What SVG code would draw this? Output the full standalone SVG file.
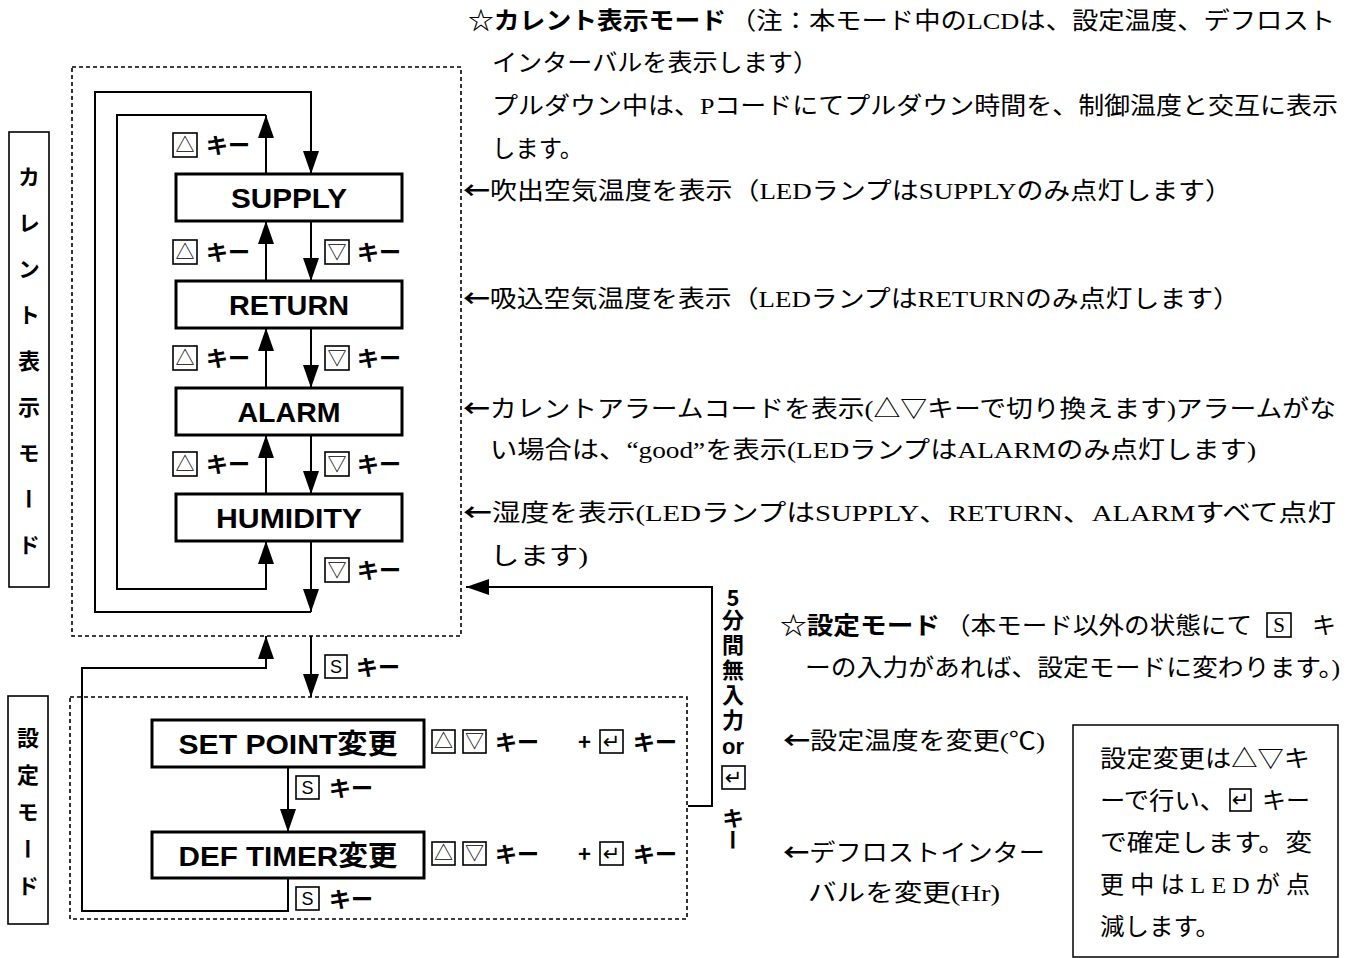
<svg xmlns="http://www.w3.org/2000/svg" width="1356" height="958" viewBox="0 0 1356 958">
<style>
.bg{fill:#fff}
.box{fill:#fff;stroke:#000;stroke-width:3}
.dot{fill:none;stroke:#000;stroke-width:1.6;stroke-dasharray:4 3}
.ln{fill:none;stroke:#000;stroke-width:2}
.arr{marker-end:url(#ah)}
.nt{font-family:"Liberation Sans","Noto Sans CJK JP",sans-serif;font-weight:bold;font-size:28px;text-anchor:middle}
.key{fill:#fff;stroke:#000;stroke-width:1.6}
.ks{font-family:"Noto Sans CJK JP",sans-serif;font-size:19px;text-anchor:middle}
.ke{font-family:"DejaVu Sans",sans-serif;font-size:21px;text-anchor:middle}
.ss{font-family:"Liberation Sans",sans-serif;font-size:18px;text-anchor:middle}
.kt{font-family:"Noto Sans CJK JP",sans-serif;font-weight:bold;font-size:22px}
.jp{font-family:"Liberation Serif","Noto Sans CJK JP",serif;font-size:24px}
.jb{font-family:"Noto Sans CJK JP",sans-serif;font-weight:bold;font-size:24px}
.ar{font-family:"Noto Sans CJK JP",sans-serif;font-weight:bold}
.vt{font-family:"Noto Sans CJK JP",sans-serif;font-weight:bold;font-size:22px;writing-mode:vertical-rl;text-orientation:upright}
.lab{fill:#fff;stroke:#000;stroke-width:1.6}
.note{fill:#fff;stroke:#000;stroke-width:1.5}
</style>
<defs>
<marker id="ah" markerUnits="userSpaceOnUse" markerWidth="23" markerHeight="16" viewBox="0 0 23 16" refX="23" refY="8" orient="auto"><path d="M0,0 L23,8 L0,16 z" fill="#000"/></marker>
</defs>
<rect class="bg" x="0" y="0" width="1356" height="958"/>

<g id="frames">
<rect class="dot" x="72" y="67" width="389" height="569"/>
<rect class="dot" x="70" y="697" width="617" height="222"/>
</g>

<g id="connectors">
<path class="ln arr" d="M311,540 V612"/>
<path class="ln arr" d="M311,612 H95 V92 H311 V174"/>
<path class="ln arr" d="M266,174 V115"/>
<path class="ln arr" d="M266,115 H117 V589 H266 V541"/>
<path class="ln arr" d="M266,281 V221"/>
<path class="ln arr" d="M311,221 V281"/>
<path class="ln arr" d="M266,388 V328"/>
<path class="ln arr" d="M311,328 V388"/>
<path class="ln arr" d="M266,494 V435"/>
<path class="ln arr" d="M311,435 V494"/>
<path class="ln arr" d="M311,636 V697"/>
<path class="ln arr" d="M288,878 V911 H82 V668 H266 V636"/>
<path class="ln arr" d="M288,767 V832"/>
<path class="ln arr" d="M688,806 H712 V587 H466"/>
</g>

<g id="node-supply"><rect class="box" x="176" y="174" width="226" height="47"/><text class="nt" x="289" y="208" textLength="116" lengthAdjust="spacingAndGlyphs">SUPPLY</text></g>
<g id="node-return"><rect class="box" x="176" y="281" width="226" height="47"/><text class="nt" x="289" y="315" textLength="120" lengthAdjust="spacingAndGlyphs">RETURN</text></g>
<g id="node-alarm"><rect class="box" x="176" y="388" width="226" height="47"/><text class="nt" x="289" y="422" textLength="103" lengthAdjust="spacingAndGlyphs">ALARM</text></g>
<g id="node-humidity"><rect class="box" x="176" y="494" width="226" height="47"/><text class="nt" x="289" y="528" textLength="146" lengthAdjust="spacingAndGlyphs">HUMIDITY</text></g>
<g id="node-setpoint"><rect class="box" x="152" y="720" width="272" height="47"/><text class="nt" x="288" y="754" textLength="219" lengthAdjust="spacingAndGlyphs">SET POINT変更</text></g>
<g id="node-deftimer"><rect class="box" x="152" y="832" width="272" height="46"/><text class="nt" x="288" y="866" textLength="219" lengthAdjust="spacingAndGlyphs">DEF TIMER変更</text></g>

<g id="label-current-mode"><rect class="lab" x="9" y="132" width="40" height="455"/><text class="vt" x="29" y="166" letter-spacing="24">カレント表示モード</text></g>
<g id="label-setting-mode"><rect class="lab" x="8" y="696" width="40" height="228"/><text class="vt" x="28" y="727" letter-spacing="15">設定モード</text></g>

<g id="key-labels">
<rect class="key" x="173" y="133" width="24" height="24"/><text class="ks" x="185" y="152">△</text><text class="kt" x="206" y="153">キー</text>
<rect class="key" x="173" y="240" width="24" height="24"/><text class="ks" x="185" y="259">△</text><text class="kt" x="206" y="260">キー</text>
<rect class="key" x="325" y="240" width="24" height="24"/><text class="ks" x="337" y="259">▽</text><text class="kt" x="357" y="260">キー</text>
<rect class="key" x="173" y="346" width="24" height="24"/><text class="ks" x="185" y="365">△</text><text class="kt" x="206" y="366">キー</text>
<rect class="key" x="325" y="346" width="24" height="24"/><text class="ks" x="337" y="365">▽</text><text class="kt" x="357" y="366">キー</text>
<rect class="key" x="173" y="452" width="24" height="24"/><text class="ks" x="185" y="471">△</text><text class="kt" x="206" y="472">キー</text>
<rect class="key" x="325" y="452" width="24" height="24"/><text class="ks" x="337" y="471">▽</text><text class="kt" x="357" y="472">キー</text>
<rect class="key" x="325" y="558" width="24" height="24"/><text class="ks" x="337" y="577">▽</text><text class="kt" x="357" y="578">キー</text>
<rect class="key" x="325" y="655" width="22" height="23"/><text class="ss" x="336" y="673">S</text><text class="kt" x="356" y="675">キー</text>
<rect class="key" x="296" y="776" width="23" height="23"/><text class="ss" x="307.500" y="794">S</text><text class="kt" x="329" y="796">キー</text>
<rect class="key" x="296" y="887" width="23" height="23"/><text class="ss" x="307.500" y="905">S</text><text class="kt" x="329" y="907">キー</text>
<rect class="key" x="432" y="730" width="23" height="23"/><text class="ks" x="443.500" y="748">△</text>
<rect class="key" x="463" y="730" width="23" height="23"/><text class="ks" x="474.500" y="748">▽</text>
<text class="kt" x="495" y="750">キー</text>
<text class="kt" x="578" y="750">+</text>
<rect class="key" x="600" y="730" width="23" height="23"/><text class="ke" x="611.500" y="749">↵</text>
<text class="kt" x="633" y="750">キー</text>
<rect class="key" x="432" y="842" width="23" height="23"/><text class="ks" x="443.500" y="860">△</text>
<rect class="key" x="463" y="842" width="23" height="23"/><text class="ks" x="474.500" y="860">▽</text>
<text class="kt" x="495" y="862">キー</text>
<text class="kt" x="578" y="862">+</text>
<rect class="key" x="600" y="842" width="23" height="23"/><text class="ke" x="611.500" y="861">↵</text>
<text class="kt" x="633" y="862">キー</text>
</g>

<g id="label-timeout">
<text class="kt" x="733" y="606" text-anchor="middle">5</text>
<text class="vt" x="733" y="609" letter-spacing="3">分間無入力</text>
<text class="kt" x="733" y="754" text-anchor="middle" style="font-family:'Liberation Sans',sans-serif">or</text>
<rect class="key" x="722" y="766" width="23" height="23"/><text class="ke" x="733.500" y="785">↵</text>
<text class="vt" x="733" y="807">キー</text>
</g>

<g id="text-current-mode">
<text class="jb" x="468" y="29" textLength="258" lengthAdjust="spacingAndGlyphs">☆カレント表示モード</text>
<text class="jp" x="730" y="29" textLength="605" lengthAdjust="spacingAndGlyphs">（注：本モード中のLCDは、設定温度、デフロスト</text>
<text class="jp" x="492" y="71" textLength="326" lengthAdjust="spacingAndGlyphs">インターバルを表示します）</text>
<text class="jp" x="492" y="114" textLength="846" lengthAdjust="spacingAndGlyphs">プルダウン中は、Pコードにてプルダウン時間を、制御温度と交互に表示</text>
<text class="jp" x="492" y="157" textLength="91" lengthAdjust="spacingAndGlyphs">します。</text>
<text class="jp" x="463" y="199" textLength="769" lengthAdjust="spacingAndGlyphs"><tspan class="ar">←</tspan>吹出空気温度を表示（LEDランプはSUPPLYのみ点灯します）</text>
<text class="jp" x="463" y="307" textLength="777" lengthAdjust="spacingAndGlyphs"><tspan class="ar">←</tspan>吸込空気温度を表示（LEDランプはRETURNのみ点灯します）</text>
<text class="jp" x="463" y="417" textLength="873" lengthAdjust="spacingAndGlyphs"><tspan class="ar">←</tspan>カレントアラームコードを表示(△▽キーで切り換えます)アラームがな</text>
<text class="jp" x="490" y="458" textLength="766" lengthAdjust="spacingAndGlyphs">い場合は、“good”を表示(LEDランプはALARMのみ点灯します)</text>
<text class="jp" x="463" y="521" textLength="873" lengthAdjust="spacingAndGlyphs"><tspan class="ar">←</tspan>湿度を表示(LEDランプはSUPPLY、RETURN、ALARMすべて点灯</text>
<text class="jp" x="490" y="564" textLength="98" lengthAdjust="spacingAndGlyphs">します)</text>
</g>

<g id="text-setting-mode">
<text class="jb" x="780" y="634" textLength="160" lengthAdjust="spacingAndGlyphs">☆設定モード</text>
<text class="jp" x="945" y="634" textLength="307" lengthAdjust="spacingAndGlyphs">（本モード以外の状態にて</text>
<rect class="key" x="1267" y="613" width="24" height="24"/><text class="ks" x="1279" y="632" style="font-family:'Liberation Serif',serif;font-size:21px">S</text>
<text class="jp" x="1312" y="634">キ</text>
<text class="jp" x="805" y="676" textLength="535" lengthAdjust="spacingAndGlyphs">ーの入力があれば、設定モードに変わります。)</text>
<text class="jp" x="783" y="749" textLength="262" lengthAdjust="spacingAndGlyphs"><tspan class="ar">←</tspan>設定温度を変更(℃)</text>
<text class="jp" x="783" y="861" textLength="262" lengthAdjust="spacingAndGlyphs"><tspan class="ar">←</tspan>デフロストインター</text>
<text class="jp" x="808" y="901" textLength="192" lengthAdjust="spacingAndGlyphs">バルを変更(Hr)</text>
</g>

<g id="note-box">
<rect class="note" x="1073" y="725" width="265" height="232"/>
<text class="jp" x="1100" y="767" textLength="210" lengthAdjust="spacingAndGlyphs">設定変更は△▽キ</text>
<text class="jp" x="1100" y="809" textLength="125" lengthAdjust="spacingAndGlyphs">ーで行い、</text>
<rect class="key" x="1230" y="789" width="21" height="22"/><text class="ke" x="1240.500" y="807">↵</text>
<text class="jp" x="1262" y="809" textLength="48" lengthAdjust="spacingAndGlyphs">キー</text>
<text class="jp" x="1100" y="851" textLength="212" lengthAdjust="spacingAndGlyphs">で確定します。変</text>
<text class="jp" x="1100" y="893" textLength="210" lengthAdjust="spacing">更中はLEDが点</text>
<text class="jp" x="1100" y="935" textLength="120" lengthAdjust="spacingAndGlyphs">減します。</text>
</g>
</svg>
